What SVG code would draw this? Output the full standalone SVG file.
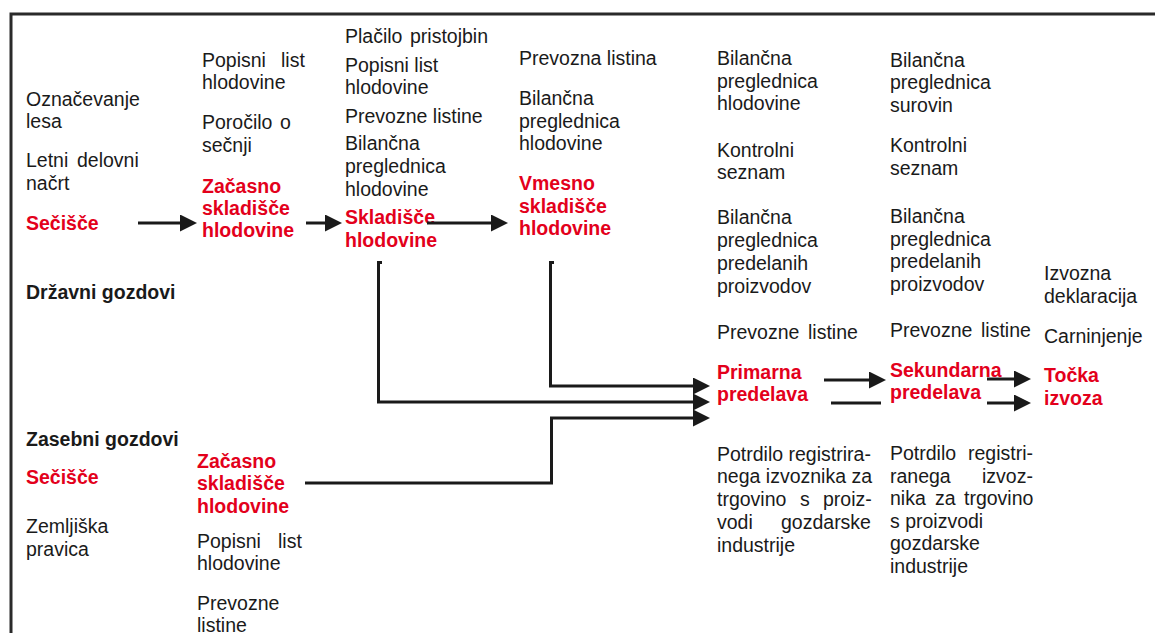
<svg xmlns="http://www.w3.org/2000/svg" width="1155" height="633" viewBox="0 0 1155 633">
<style>
text{font-family:"Liberation Sans",Arial,Helvetica,sans-serif;font-size:19.5px;fill:#1a1a1a}
.r{fill:#e3001b;font-weight:bold}
.b{font-weight:bold}
.c{fill:none;stroke:#1a1a1a;stroke-width:3}
.a{marker-end:url(#ah)}
</style>
<defs>
<marker id="ah" markerUnits="userSpaceOnUse" viewBox="0 0 17 17" refX="7" refY="8.5" markerWidth="17" markerHeight="17" orient="auto"><path d="M0,0L17,8.5L0,17z" fill="#1a1a1a"/></marker>
</defs>
<rect width="1155" height="633" fill="#fff"/>
<rect x="11" y="14" width="1160" height="640" fill="none" stroke="#2a2a2a" stroke-width="3"/>

<g id="oznacevanje"><text x="26" y="106">Označevanje</text><text x="26" y="128">lesa</text></g>
<g id="letni-nacrt"><text x="26" y="167">Letni <tspan x="77">delovni</tspan></text><text x="26" y="190">načrt</text></g>
<g id="secisce-1"><text class="r" x="26" y="230">Sečišče</text></g>
<g id="drzavni"><text class="b" x="26" y="299">Državni gozdovi</text></g>
<g id="zasebni"><text class="b" x="26" y="446">Zasebni gozdovi</text></g>
<g id="secisce-2"><text class="r" x="26" y="484">Sečišče</text></g>
<g id="zemljiska"><text x="26" y="533">Zemljiška</text><text x="26" y="556">pravica</text></g>

<g id="popisni-1"><text x="202" y="67">Popisni <tspan x="281">list</tspan></text><text x="202" y="89">hlodovine</text></g>
<g id="porocilo"><text x="202" y="129">Poročilo <tspan x="280">o</tspan></text><text x="202" y="152">sečnji</text></g>
<g id="zacasno-1"><text class="r" x="202" y="193">Začasno</text><text class="r" x="202" y="215">skladišče</text><text class="r" x="202" y="237">hlodovine</text></g>

<g id="zacasno-2"><text class="r" x="197" y="468">Začasno</text><text class="r" x="197" y="490">skladišče</text><text class="r" x="197" y="513">hlodovine</text></g>
<g id="popisni-2"><text x="197" y="548">Popisni <tspan x="278">list</tspan></text><text x="197" y="570">hlodovine</text></g>
<g id="prevozne-2"><text x="197" y="610">Prevozne</text><text x="197" y="632">listine</text></g>

<g id="placilo"><text x="345" y="43">Plačilo <tspan x="410">pristojbin</tspan></text></g>
<g id="popisni-3"><text x="345" y="72">Popisni list</text><text x="345" y="94">hlodovine</text></g>
<g id="prevozne-3"><text x="345" y="123">Prevozne listine</text></g>
<g id="bilancna-3"><text x="345" y="150">Bilančna</text><text x="345" y="173">preglednica</text><text x="345" y="196">hlodovine</text></g>
<g id="skladisce"><text class="r" x="345" y="224">Skladišče</text><text class="r" x="345" y="247">hlodovine</text></g>

<g id="prevozna-4"><text x="519" y="65">Prevozna listina</text></g>
<g id="bilancna-4"><text x="519" y="105">Bilančna</text><text x="519" y="128">preglednica</text><text x="519" y="150">hlodovine</text></g>
<g id="vmesno"><text class="r" x="519" y="190">Vmesno</text><text class="r" x="519" y="213">skladišče</text><text class="r" x="519" y="235">hlodovine</text></g>

<g id="bilancna-5a"><text x="717" y="65">Bilančna</text><text x="717" y="88">preglednica</text><text x="717" y="110">hlodovine</text></g>
<g id="kontrolni-5"><text x="717" y="157">Kontrolni</text><text x="717" y="179">seznam</text></g>
<g id="bilancna-5b"><text x="717" y="224">Bilančna</text><text x="717" y="247">preglednica</text><text x="717" y="270">predelanih</text><text x="717" y="293">proizvodov</text></g>
<g id="prevozne-5"><text x="717" y="339">Prevozne <tspan x="808">listine</tspan></text></g>
<g id="primarna"><text class="r" x="717" y="379">Primarna</text><text class="r" x="717" y="401">predelava</text></g>
<g id="potrdilo-5"><text x="717" y="461">Potrdilo registrira-</text><text x="717" y="483">nega izvoznika za</text><text x="717" y="506">trgovino <tspan x="800">s</tspan> <tspan x="823">proiz-</tspan></text><text x="717" y="529">vodi <tspan x="781">gozdarske</tspan></text><text x="717" y="552">industrije</text></g>

<g id="bilancna-6a"><text x="890" y="67">Bilančna</text><text x="890" y="89">preglednica</text><text x="890" y="112">surovin</text></g>
<g id="kontrolni-6"><text x="890" y="152">Kontrolni</text><text x="890" y="175">seznam</text></g>
<g id="bilancna-6b"><text x="890" y="223">Bilančna</text><text x="890" y="246">preglednica</text><text x="890" y="268">predelanih</text><text x="890" y="291">proizvodov</text></g>
<g id="prevozne-6"><text x="890" y="337">Prevozne <tspan x="981">listine</tspan></text></g>
<g id="sekundarna"><text class="r" x="890" y="377">Sekundarna</text><text class="r" x="890" y="399">predelava</text></g>
<g id="potrdilo-6"><text x="890" y="460">Potrdilo <tspan x="968">registri-</tspan></text><text x="890" y="483">ranega <tspan x="982">izvoz-</tspan></text><text x="890" y="505">nika <tspan x="935">za</tspan> <tspan x="964">trgovino</tspan></text><text x="890" y="528">s proizvodi</text><text x="890" y="550">gozdarske</text><text x="890" y="573">industrije</text></g>

<g id="izvozna"><text x="1044" y="280">Izvozna</text><text x="1044" y="303">deklaracija</text></g>
<g id="carninjenje"><text x="1044" y="343">Carninjenje</text></g>
<g id="tocka"><text class="r" x="1044" y="382">Točka</text><text class="r" x="1044" y="405">izvoza</text></g>

<g id="connectors">
<path class="c a" d="M138,223H187"/>
<path class="c a" d="M306,223H332"/>
<path class="c a" d="M427,223H498"/>
<path class="c a" d="M382,262.5H378.5V402H700"/>
<path class="c a" d="M554,262.5H550.5V386H700"/>
<path class="c a" d="M305,483H551.5V418H700"/>
<path class="c a" d="M824,380H876"/>
<path class="c" d="M831,403H881"/>
<path class="c a" d="M987,379H1021"/>
<path class="c a" d="M987,403H1021"/>
</g>
</svg>
